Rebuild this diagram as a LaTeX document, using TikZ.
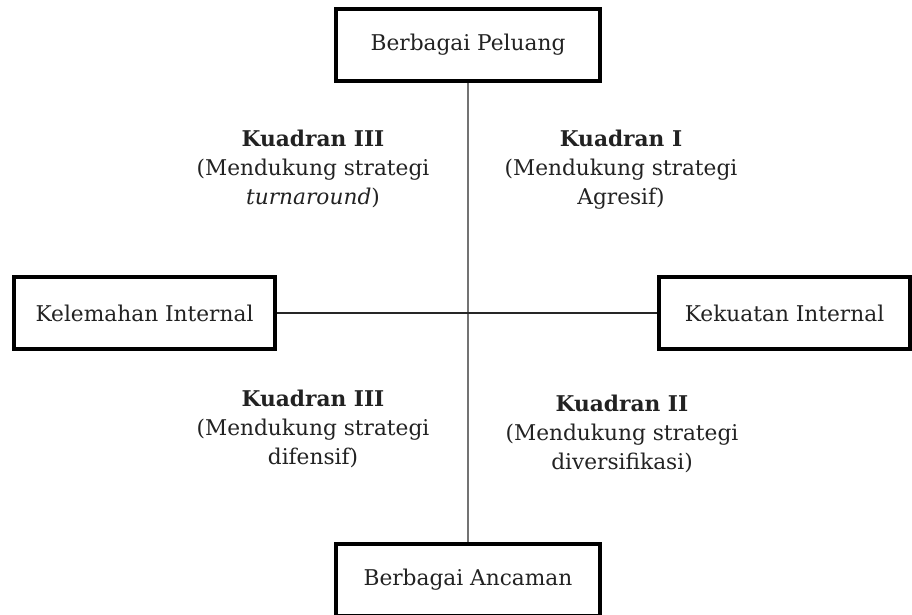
\documentclass[tikz,border=0pt]{standalone}
\usepackage{fontspec}
\setmainfont{DejaVu Serif}
\definecolor{teks}{HTML}{222222}
\tikzstyle{kotak}=[draw=black,line width=4.5pt,fill=white,minimum height=72pt,inner sep=0pt,text=teks,font=\fontsize{21.7}{28}\selectfont]
\tikzstyle{kuadran}=[align=center,inner sep=0pt,text=teks,font=\fontsize{21.7}{29}\selectfont]
\tikzstyle{sumbu}=[draw,line width=1.5pt]

\begin{document}
\begin{tikzpicture}[x=1pt,y=-1pt]
    \clip (0,0) rectangle (912,614);
    % kotak
    \foreach \pos/\lebar/\name/\isi in {{(468,45)/264/peluang/Berbagai Peluang}, {(468,580)/264/ancaman/Berbagai Ancaman}, {(144.5,313)/261/kelemahan/Kelemahan Internal}, {(784.5,313)/251/kekuatan/Kekuatan Internal}}
        \node[kotak,minimum width=\lebar pt] (\name) at \pos {\isi};
    % garis
    \path[sumbu,black!55!white,line width=2pt] (peluang) -- (ancaman);
    \path[sumbu,black!85!white] (kelemahan) -- (kekuatan);
    % kuadran
    \node[kuadran] (kuadranIII) at (313,169) {\textbf{Kuadran III}\\(Mendukung strategi\\\textit{turnaround})};
    \node[kuadran] (kuadranI) at (621,170) {\textbf{Kuadran I}\\(Mendukung strategi\\Agresif)};
    \node[kuadran] (kuadranIV) at (313,429) {\textbf{Kuadran III}\\(Mendukung strategi\\difensif)};
    \node[kuadran] (kuadranII) at (622,434) {\textbf{Kuadran II}\\(Mendukung strategi\\diversifikasi)};
\end{tikzpicture}
\end{document}
